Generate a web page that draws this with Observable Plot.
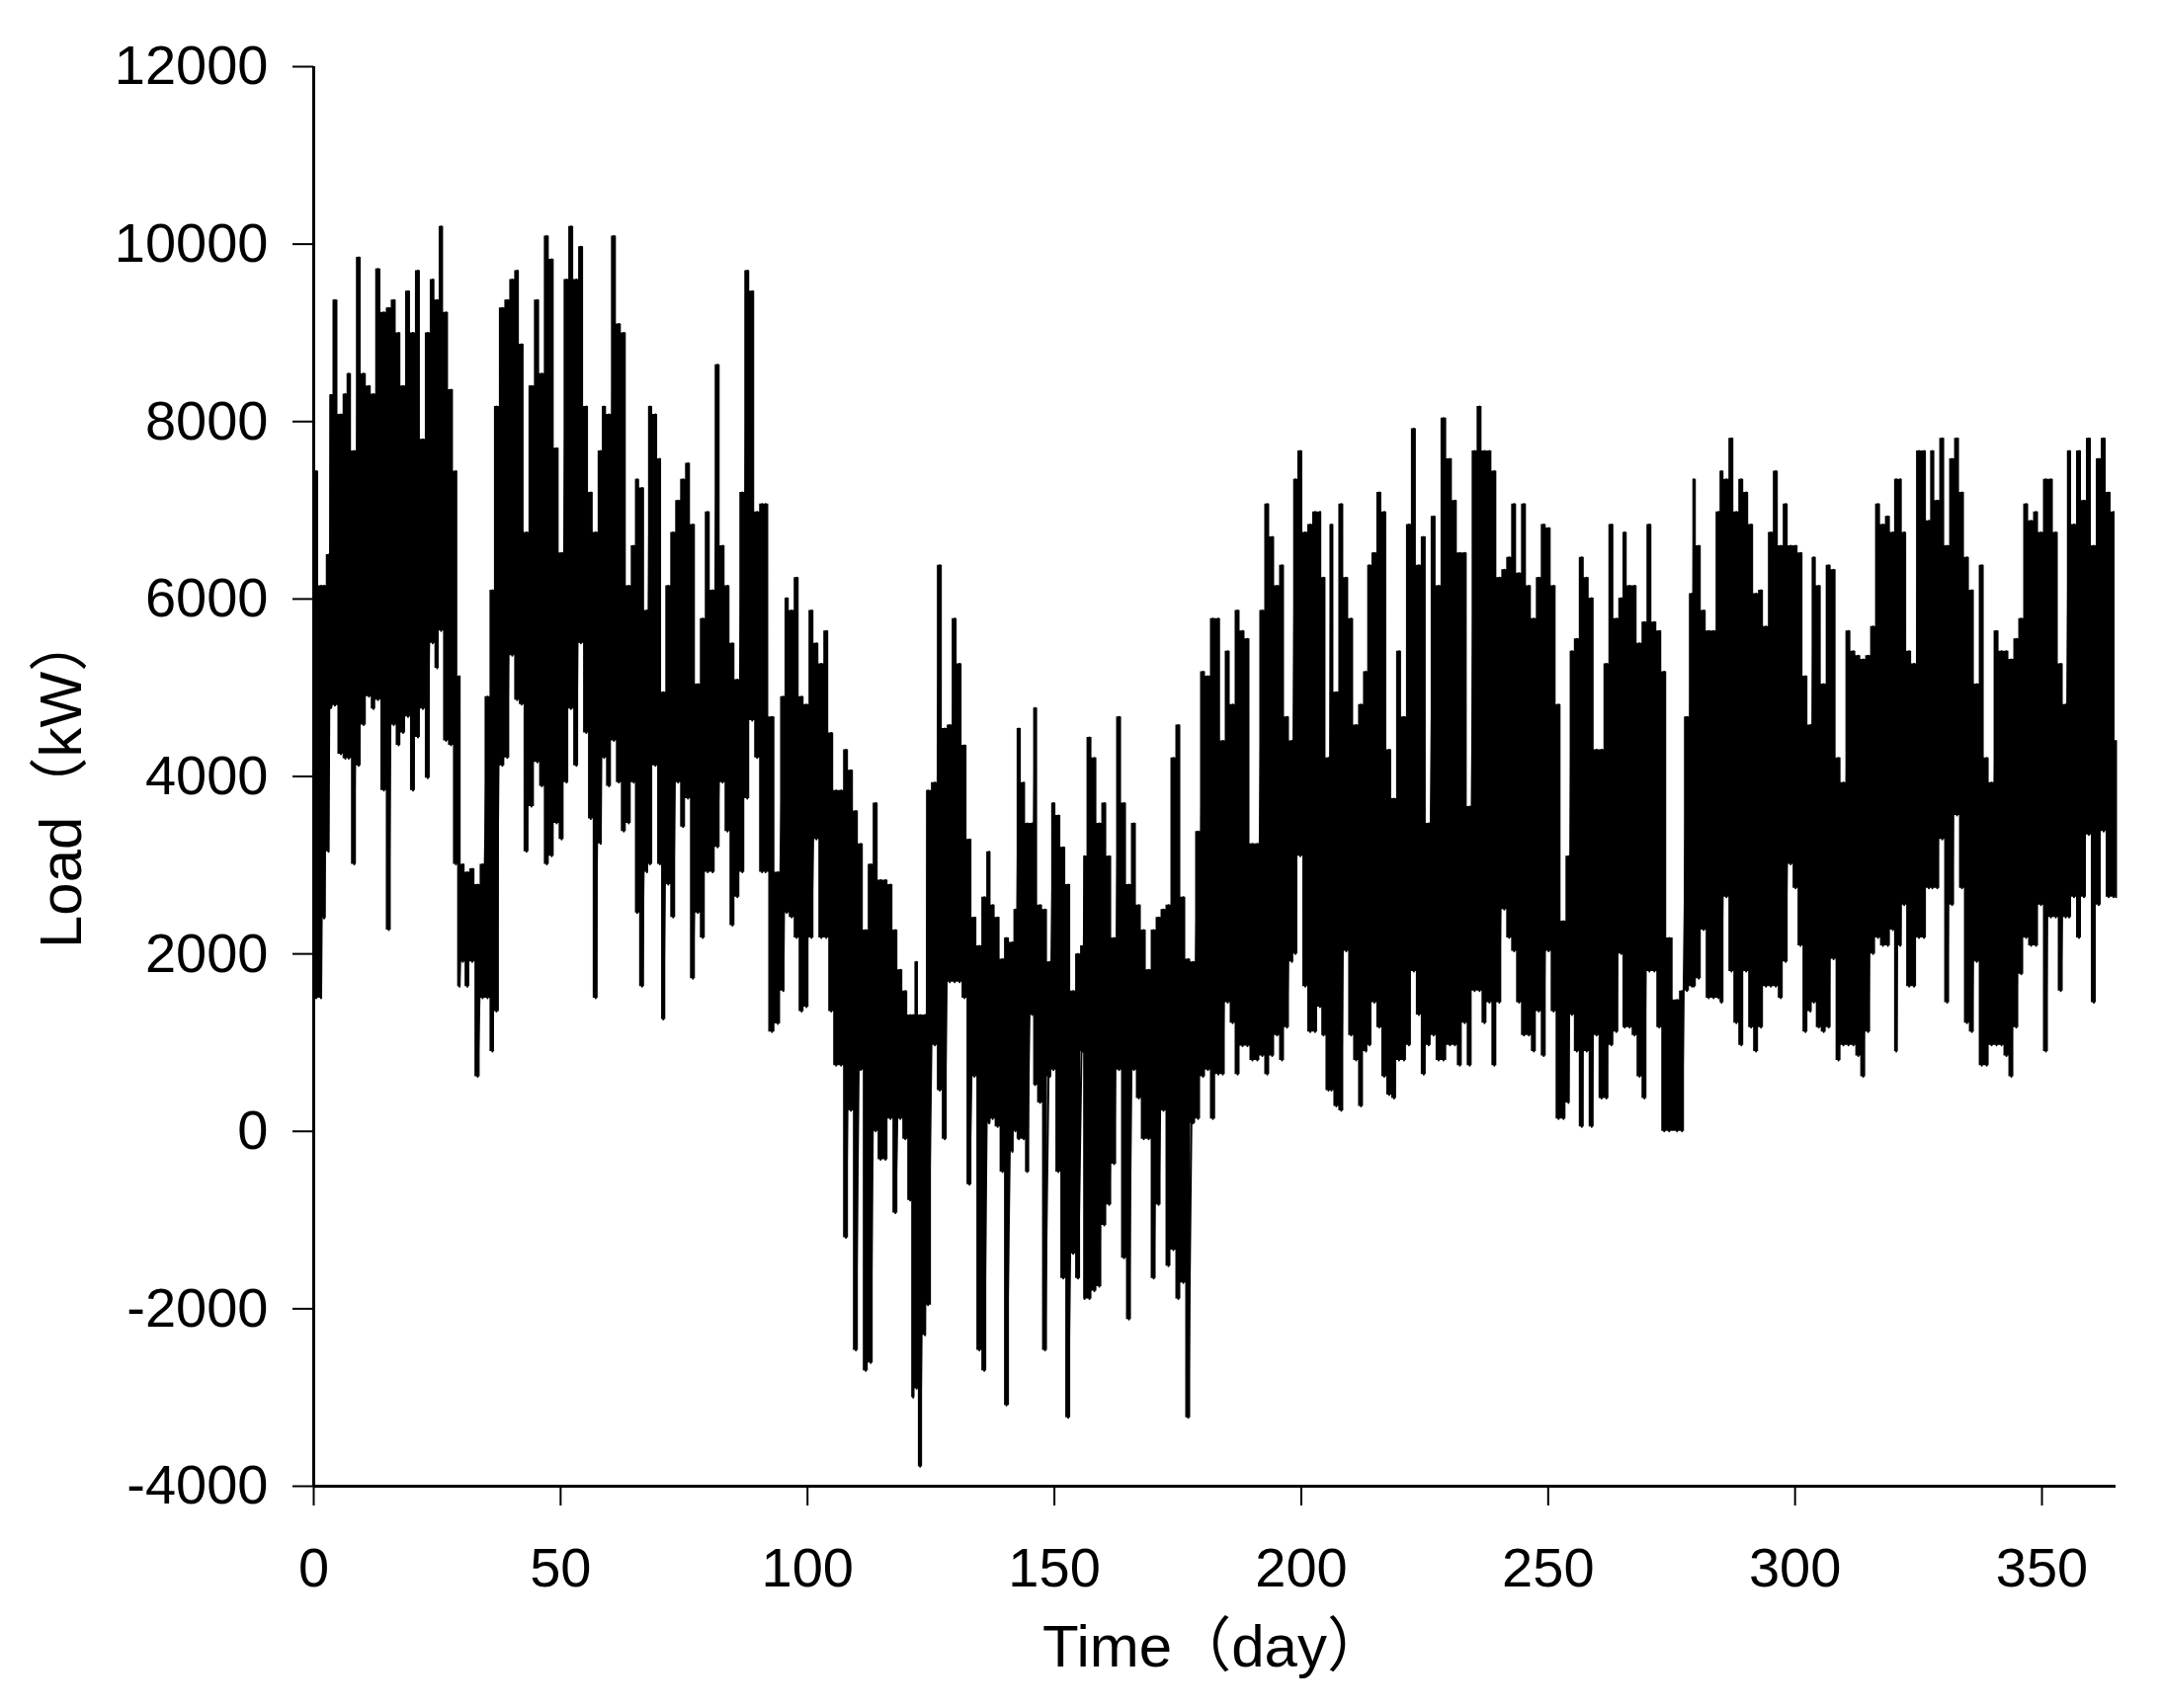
<!DOCTYPE html>
<html>
<head>
<meta charset="utf-8">
<script src="https://cdn.jsdelivr.net/npm/d3@7"></script>
<script src="https://cdn.jsdelivr.net/npm/@observablehq/plot@0.6"></script>
<style>
  html, body { margin: 0; padding: 0; background: #fff; }
  #chart { width: 2187px; height: 1729px; }
</style>
</head>
<body>
<div id="chart"></div>
<script>
// Time (day) of each reading
const day = [
  0, 0.5, 1.5, 2.1, 3.0, 3.5, 4.3, 5.5, 6.4, 7.1, 8.2, 9.1, 10.1, 11.2, 12.1, 13.0, 14.2, 15.2, 16.2, 17.2,
  18.1, 19.1, 20.1, 21.1, 22.1, 23.1, 24.1, 25.0, 25.8, 26.8, 27.8, 28.8, 29.5, 30.2, 31.1, 32.1, 33.2, 34.2, 35.2, 36.2,
  37.0, 38.2, 39.2, 40.2, 41.2, 42.1, 43.1, 44.1,
  45.3, 46.2, 47.2, 48.2, 49.2, 50.2, 51.2, 52.1, 53.2, 54.1, 55.2, 56.1, 57.1, 58.1, 58.8, 59.8, 60.8, 61.8, 62.8, 63.8,
  64.8, 65.5, 66.5, 67.5, 68.1, 69.2, 70.1, 70.8, 71.8, 72.8, 73.8, 74.8, 75.8, 76.8, 77.8, 78.8, 79.8, 80.8, 81.8, 82.8,
  83.8, 84.8, 85.8, 86.8, 87.8, 88.8, 89.8, 90.8,
  91.5, 92.8, 94.0, 95.1, 95.8, 96.8, 97.8, 98.8, 99.8, 100.8, 101.8, 102.8, 103.8, 104.8, 105.8, 106.8, 107.8, 108.8, 109.8, 110.8,
  111.8, 112.8, 113.8, 114.8, 115.8, 116.8, 117.8, 118.8, 119.8, 120.8, 121.4, 122.1, 122.8, 123.8, 124.4, 125.8, 126.8, 127.8, 128.8, 129.8,
  130.8, 131.8, 132.8, 133.8, 134.8, 135.8, 136.8,
  137.5, 138.5, 139.5, 140.3, 141.5, 142.1, 142.8, 143.8, 144.5, 145.5, 146.1, 147.1, 148.1, 149.1, 149.8, 150.8, 151.8, 152.8, 153.8, 154.8,
  155.8, 156.1, 157.1, 158.1, 159.1, 160.1, 161.1, 162.1, 163.1, 164.1, 165.1, 166.1, 167.1, 168.1, 169.1, 170.1, 171.1, 172.1, 173.1, 174.1,
  175.1, 176.1, 177.1, 178.1, 179.1, 180.1, 181.1, 182.1,
  183.2, 184.1, 185.1, 186.1, 187.1, 188.1, 189.1, 190.1, 191.1, 192.1, 193.1, 194.1, 195.1, 196.1, 197.1, 198.1, 198.8, 199.8, 200.8, 201.8,
  202.8, 203.8, 204.5, 205.5, 206.1, 207.1, 208.1, 209.1, 210.1, 211.1, 212.1, 213.1, 213.8, 214.8, 215.8, 216.8, 217.8, 218.8, 219.8, 220.8,
  221.8, 222.8, 223.8, 224.8, 225.8, 226.8, 227.8, 228.8,
  230.1, 231.1, 232.1, 233.1, 234.1, 235.1, 236.1, 237.1, 238.1, 239.1, 240.1, 241.1, 242.1, 243.1, 244.1, 245.1, 246.1, 247.1, 248.1, 249.1,
  250.1, 251.1, 252.1, 253.1, 254.1, 254.8, 255.8, 256.8, 257.8, 258.8, 259.8, 260.8, 261.8, 262.8, 263.8, 264.8, 265.5, 266.5, 267.5, 268.5,
  269.5, 270.5, 271.5, 272.5, 273.5, 274.5,
  276.1, 277.1, 278.1, 279.1, 279.5, 280.5, 281.5, 282.5, 283.5, 284.5, 285.1, 286.1, 287.1, 288.1, 289.1, 290.1, 291.1, 292.1, 293.1, 294.1,
  295.1, 296.1, 297.1, 298.1, 299.1, 300.1, 301.1, 302.1, 303.1, 303.8, 304.8, 305.8, 306.8, 307.8, 308.8, 309.8, 310.8, 311.8, 312.8, 313.8,
  314.8, 315.8, 316.8, 317.8, 318.8, 319.8, 320.5, 321.3,
  322.1, 323.1, 324.1, 325.1, 326.1, 327.1, 327.8, 328.8, 329.8, 330.8, 331.8, 332.8, 333.8, 334.8, 335.8, 336.8, 337.8, 338.8, 339.8, 340.8,
  341.8, 342.8, 343.8, 344.8, 345.8, 346.8, 347.8, 348.8, 349.8, 350.8, 351.8, 352.8, 353.8, 354.8, 355.5, 356.5, 357.5, 358.5, 359.5, 360.5,
  361.5, 362.5, 363.5, 364.5, 365
];

// Highest load (kW) of each reading
const loadMax = [
  7670, 7440, 6150, 6150, 6500, 8300, 9370, 8080, 8310, 8540, 7670, 9850, 8540, 8400, 8310, 9720, 9230, 9280, 9370, 9000,
  8400, 9470, 9000, 9700, 7800, 9000, 9600, 9370, 10200, 9230, 8360, 7440, 5130, 3010, 2920, 2960, 2780, 3010, 4900, 6100,
  8170, 9280, 9370, 9600, 9700, 8870, 6750, 8400,
  9370, 8540, 10090, 9830, 7700, 6520, 9600, 10200, 9600, 9970, 8170, 7200, 6750, 7670, 8170, 8080, 10090, 9100, 9000, 6150,
  6600, 7350, 7250, 5870, 8170, 8080, 7580, 4950, 6150, 6750, 7110, 7350, 7530, 6840, 5040, 5780, 6980, 6100, 8640, 6600,
  6150, 5500, 5090, 7200, 9700, 9470, 6980, 7070,
  7070, 4670, 2920, 4900, 6010, 5870, 6240, 4900, 4810, 5870, 5500, 5270, 5640, 4490, 3840, 3840, 4300, 4070, 3610, 3240,
  2270, 3010, 3700, 2830, 2830, 2780, 2270, 1820, 1580, 1310, 1310, 1910, 1310, 1310, 3840, 3930, 6380, 4540, 4580, 5780,
  5270, 4350, 3290, 2410, 2090, 2640, 3150,
  2550, 2410, 1940, 2180, 2130, 2500, 4540, 3930, 3470, 3470, 4770, 2550, 2500, 1910, 3700, 3560, 3200, 2780, 1580, 2000,
  2090, 3100, 4440, 4210, 3470, 3700, 3100, 2180, 4670, 3700, 2780, 3470, 2550, 2270, 1820, 2270, 2410, 2500, 2550, 4210,
  4580, 2640, 1940, 1910, 3380, 5180, 5130, 5780,
  5780, 4400, 5410, 4810, 5870, 5640, 5550, 3240, 3240, 5870, 7070, 6700, 6150, 6380, 4670, 4400, 7350, 7670, 6750, 6840,
  6980, 6980, 6240, 4210, 6840, 4950, 7070, 6240, 5780, 4580, 4810, 5180, 6380, 6520, 7200, 6980, 4300, 3750, 5410, 4670,
  6840, 7920, 6380, 6700, 3470, 6930, 6150, 8040,
  7580, 7110, 6520, 6520, 3660, 7670, 8170, 7670, 7670, 7440, 6240, 6330, 6470, 7070, 6290, 7070, 6150, 5780, 6240, 6840,
  6800, 6150, 4810, 2370, 3100, 5410, 5550, 6470, 6240, 6010, 4300, 4300, 5270, 6840, 5780, 6010, 6750, 6150, 6150, 5500,
  5740, 6840, 5740, 5640, 5180, 2180,
  1480, 1580, 4670, 6060, 7350, 6600, 5870, 5640, 5640, 6980, 7440, 7350, 7810, 6980, 7350, 7200, 6840, 6060, 6100, 5690,
  6750, 7440, 6600, 7070, 6600, 6600, 6520, 5130, 4580, 6470, 6150, 5040, 6380, 6330, 4210, 3930, 5640, 5410, 5360, 5320,
  5360, 5690, 7070, 6840, 6930, 6750, 7350, 7350,
  6750, 5410, 5270, 7670, 7670, 6880, 7670, 7110, 7810, 6600, 7580, 7810, 7200, 6470, 6100, 5040, 6380, 4210, 3930, 5640,
  5410, 5410, 5320, 5550, 5780, 7070, 6880, 6980, 6750, 7350, 7350, 6750, 5270, 4810, 7670, 6840, 7670, 7110, 7810, 6600,
  7580, 7810, 7200, 6980, 4400
];

// Lowest load (kW) of each reading
const loadMin = [
  3400, 1500, 1500, 2400, 3150, 4770, 4800, 4250, 4200, 4200, 3010, 4120, 4580, 4900, 4760, 4860, 3840, 2270, 4580, 4350,
  4490, 4670, 3840, 4440, 4760, 3980, 5500, 5220, 5640, 4400, 4350, 3010, 1630, 1910, 1630, 1910, 615, 1500, 1500, 900,
  1350, 4120, 4210, 5360, 4860, 4810, 3150, 3660,
  4160, 3890, 3010, 3100, 3470, 3290, 3930, 4760, 4120, 5500, 4490, 3520, 1500, 3240, 4210, 3890, 4400, 3930, 3380, 3470,
  3930, 2460, 1630, 2920, 3010, 4120, 3010, 1260, 2780, 2410, 3930, 3430, 3750, 1720, 2460, 2180, 2920, 2920, 3200, 3930,
  3380, 2320, 2640, 2920, 3750, 4630, 4210, 2920,
  2920, 1120, 1210, 1580, 2460, 2410, 2180, 1350, 1400, 2180, 3290, 2180, 2180, 1350, 740, 740, -1200, 230, -2470, 690,
  -2700, -2610, 0, -320, -320, 140, -920, 140, -90, -780, -3000, -2900, -3780, -2300, -1960, 970, 460, -90, 1680, 1680,
  1680, 1500, -600, 615, -2470, -2700, 90,
  140, 50, -460, -3090, -230, 0, -90, -90, -460, 1310, 520, 320, -2470, 615, 690, -460, -1660, -3230, -1380, -1660,
  900, -1890, -1890, -1800, -1750, -1060, -830, -370, 690, -1430, -2120, 690, 370, -90, -90, -1660, -830, 230, -1520, -1340,
  -1890, -1710, -3230, 90, 140, 615, 690, 140,
  640, 640, 1450, 1220, 640, 960, 960, 800, 800, 850, 640, 850, 1080, 800, 1170, 1910, 2000, 3100, 1630, 1120,
  1120, 1400, 1080, 460, 460, 280, 230, 2030, 1080, 800, 280, 900, 970, 1450, 1170, 615, 410, 370, 800, 800,
  970, 1800, 1310, 640, 970, 1080, 800, 800,
  970, 970, 740, 1220, 740, 1580, 1580, 1220, 1450, 740, 1450, 2500, 2180, 2030, 1450, 1080, 1080, 900, 1350, 850,
  2030, 1350, 140, 140, 320, 1310, 900, 50, 900, 50, 1080, 370, 370, 970, 1120, 2000, 1170, 1170, 1080, 615,
  370, 1800, 1800, 1170, 0, 0,
  0, 0, 1580, 1630, 1630, 1720, 2270, 1500, 1500, 1500, 1450, 2640, 1800, 1220, 970, 1800, 1170, 900, 1170, 1630,
  1630, 1630, 1500, 1910, 3010, 2740, 2090, 1120, 1350, 1450, 1170, 1120, 1170, 1940, 800, 970, 970, 970, 850, 615,
  1120, 2000, 2180, 2090, 2090, 2270, 900, 2090,
  2550, 1630, 1630, 2180, 2180, 2740, 2740, 2740, 3290, 1450, 2550, 3560, 2740, 1220, 1120, 1910, 740, 740, 970, 970,
  970, 850, 615, 1170, 1770, 2180, 2090, 2090, 2550, 900, 2410, 2410, 1580, 2410, 2410, 2640, 2180, 2640, 3340, 1450,
  2550, 3380, 2640, 2640, 2640
];

const xTicks = [0, 50, 100, 150, 200, 250, 300, 350];
const yTicks = [-4000, -2000, 0, 2000, 4000, 6000, 8000, 10000, 12000];
const xTitle = "Time（day）";
const yTitle = "Load（kW）";

const rows = day.map((d, i) => ({day: d, max: loadMax[i], min: loadMin[i]}));
const zig = rows.flatMap(r => [{day: r.day, load: r.max}, {day: r.day, load: r.min}]);

const fontFamily = '"Liberation Sans", Arial, "Noto Sans CJK SC", sans-serif';

const chart = Plot.plot({
  width: 2187,
  height: 1729,
  marginLeft: 317,
  marginRight: 46,
  marginTop: 67,
  marginBottom: 225,
  style: {fontFamily, fontSize: "56px", color: "#000", background: "#fff"},
  x: {domain: [0, 365]},
  y: {domain: [-4000, 12000]},
  marks: [
    Plot.areaY(rows, {x: "day", y1: "min", y2: "max", fill: "#000", curve: "step"}),
    Plot.line(zig, {x: "day", y: "load", stroke: "#000", strokeWidth: 2}),
    Plot.axisY({ticks: yTicks, tickSize: 21, tickPadding: 25, strokeWidth: 2, fontSize: 56, label: null, tickFormat: d => String(d)}),
    Plot.axisX({ticks: xTicks, tickSize: 20, tickPadding: 42, strokeWidth: 2, fontSize: 56, label: null, tickFormat: d => String(d)}),
    Plot.ruleX([0], {stroke: "#000", strokeWidth: 3}),
    Plot.ruleY([-4000], {stroke: "#000", strokeWidth: 3})
  ]
});

const svg = d3.select(chart);
svg.append("text")
  .attr("x", 1229).attr("y", 1687)
  .attr("text-anchor", "middle")
  .attr("font-size", 60)
  .attr("font-family", fontFamily)
  .attr("fill", "#000")
  .text(xTitle);
svg.append("text")
  .attr("transform", "translate(82,790) rotate(-90)")
  .attr("text-anchor", "middle")
  .attr("font-size", 60)
  .attr("font-family", fontFamily)
  .attr("fill", "#000")
  .text(yTitle);

document.getElementById("chart").appendChild(chart);
</script>
</body>
</html>
